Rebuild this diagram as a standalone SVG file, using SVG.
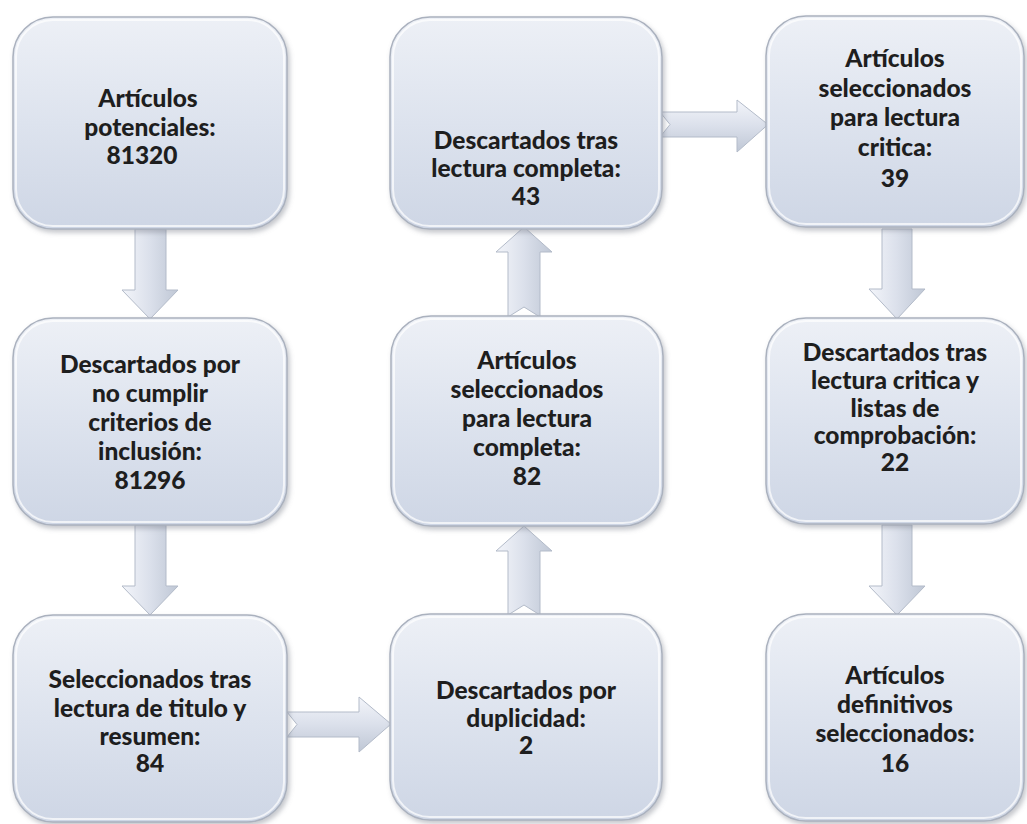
<svg xmlns="http://www.w3.org/2000/svg" width="1027" height="824" viewBox="0 0 1027 824">
<defs>
<linearGradient id="gNode" x1="0" y1="0" x2="0" y2="1">
<stop offset="0" stop-color="#edf0f6"/>
<stop offset="0.5" stop-color="#dde3ee"/>
<stop offset="1" stop-color="#ced6e5"/>
</linearGradient>
<linearGradient id="gV" x1="0" y1="0" x2="1" y2="0">
<stop offset="0" stop-color="#f3f5fa"/>
<stop offset="0.5" stop-color="#dbe0eb"/>
<stop offset="1" stop-color="#bfc7d5"/>
</linearGradient>
<linearGradient id="gH" x1="0" y1="0" x2="0" y2="1">
<stop offset="0" stop-color="#f3f5fa"/>
<stop offset="0.5" stop-color="#dbe0eb"/>
<stop offset="1" stop-color="#bfc7d5"/>
</linearGradient>
<filter id="sh" x="-10%" y="-10%" width="125%" height="125%">
<feDropShadow dx="2" dy="3" stdDeviation="2.5" flood-color="#7a808c" flood-opacity="0.45"/>
</filter>
</defs>
<style>
.box{fill:url(#gNode);stroke:#aab1be;stroke-width:1.5;filter:url(#sh)}
.hl{fill:none;stroke:#ffffff;stroke-opacity:0.7;stroke-width:2}
.av{fill:url(#gV);stroke:#b3bbc9;stroke-width:1}
.ah{fill:url(#gH);stroke:#b3bbc9;stroke-width:1}
text{font-family:Lato,"Open Sans","Liberation Sans",sans-serif;font-weight:900;font-size:24.5px;fill:#1e1e1e;text-anchor:middle}
</style>
<rect width="1027" height="824" fill="#ffffff"/>
<g id="connectors">
<polygon class="av" points="135,229 166,229 166,290 178,290 150,319 122,290 135,290"/>
<polygon class="av" points="135,525 166,525 166,586 178,586 150,615 122,586 135,586"/>
<polygon class="av" points="508,317 524,307 540,317 540,252 552,252 524,227 496,252 508,252"/>
<polygon class="av" points="508,615 524,605 540,615 540,551 552,551 524,526 496,551 508,551"/>
<polygon class="ah" points="660,112 737,112 737,100 768,124.5 737,152 737,137 660,137 670,124.5"/>
<polygon class="ah" points="287,712 359,712 359,697 391,724 359,752 359,737 287,737 297,724.5"/>
<polygon class="av" points="882,229 912,229 912,289 925,289 897,319 869,289 882,289"/>
<polygon class="av" points="882,525 912,525 912,586 925,586 897,615 869,586 882,586"/>
</g>
<g id="n1">
<rect class="box" x="13" y="17" width="274" height="212" rx="40"/>
<rect class="hl" x="16" y="20" width="268" height="206" rx="37"/>
<text x="148" y="107">Artículos</text>
<text x="150" y="136">potenciales:</text>
<text x="142" y="164">81320</text>
</g>
<g id="n2">
<rect class="box" x="13" y="318" width="274" height="207" rx="40"/>
<rect class="hl" x="16" y="321" width="268" height="201" rx="37"/>
<text x="150" y="373">Descartados por</text>
<text x="150" y="402">no cumplir</text>
<text x="150" y="431">criterios de</text>
<text x="150" y="460">inclusión:</text>
<text x="150" y="489">81296</text>
</g>
<g id="n3">
<rect class="box" x="13" y="615" width="274" height="207" rx="40"/>
<rect class="hl" x="16" y="618" width="268" height="201" rx="37"/>
<text x="150" y="688">Seleccionados tras</text>
<text x="150" y="717">lectura de titulo y</text>
<text x="150" y="745">resumen:</text>
<text x="150" y="772">84</text>
</g>
<g id="n4">
<rect class="box" x="390" y="17" width="272" height="212" rx="40"/>
<rect class="hl" x="393" y="20" width="266" height="206" rx="37"/>
<text x="526" y="149">Descartados tras</text>
<text x="526" y="177">lectura completa:</text>
<text x="526" y="205">43</text>
</g>
<g id="n5">
<rect class="box" x="391" y="316" width="272" height="210" rx="40"/>
<rect class="hl" x="394" y="319" width="266" height="204" rx="37"/>
<text x="527" y="369">Artículos</text>
<text x="527" y="398">seleccionados</text>
<text x="527" y="427">para lectura</text>
<text x="527" y="456">completa:</text>
<text x="527" y="485">82</text>
</g>
<g id="n6">
<rect class="box" x="390" y="614" width="272" height="206" rx="40"/>
<rect class="hl" x="393" y="617" width="266" height="200" rx="37"/>
<text x="526" y="699">Descartados por</text>
<text x="526" y="727">duplicidad:</text>
<text x="526" y="754">2</text>
</g>
<g id="n7">
<rect class="box" x="766" y="16" width="258" height="211" rx="40"/>
<rect class="hl" x="769" y="19" width="252" height="205" rx="37"/>
<text x="895" y="67">Artículos</text>
<text x="895" y="97">seleccionados</text>
<text x="895" y="126">para lectura</text>
<text x="895" y="156">critica:</text>
<text x="895" y="187">39</text>
</g>
<g id="n8">
<rect class="box" x="766" y="318" width="258" height="206" rx="40"/>
<rect class="hl" x="769" y="321" width="252" height="200" rx="37"/>
<text x="895" y="361">Descartados tras</text>
<text x="895" y="389">lectura critica y</text>
<text x="895" y="417">listas de</text>
<text x="895" y="444">comprobación:</text>
<text x="895" y="471">22</text>
</g>
<g id="n9">
<rect class="box" x="766" y="614" width="258" height="207" rx="40"/>
<rect class="hl" x="769" y="617" width="252" height="201" rx="37"/>
<text x="895" y="684">Artículos</text>
<text x="895" y="713">definitivos</text>
<text x="895" y="742">seleccionados:</text>
<text x="895" y="772">16</text>
</g>
</svg>
